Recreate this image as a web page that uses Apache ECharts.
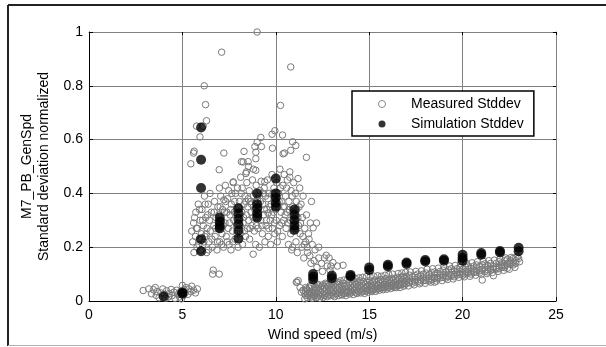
<!DOCTYPE html>
<html>
<head>
<meta charset="utf-8">
<script src="https://cdn.jsdelivr.net/npm/echarts@6/dist/echarts.min.js"></script>
<style>
html,body{margin:0;padding:0;background:#fff;}
#c{width:606px;height:347px;}
</style>
</head>
<body>
<div id="c"></div>
<script>
// ---- data ----
var xTicks = [0, 5, 10, 15, 20, 25];
var yTicks = [0, 0.2, 0.4, 0.6, 0.8, 1];
var seriesNames = ['Measured Stddev', 'Simulation Stddev'];

var measuredLow = [
[2.9,0.039],[3.2,0.045],[3.35,0.027],[3.45,0.042],[3.55,0.05],[3.6,0.021],[3.65,0.035],[3.75,0.012],[3.85,0.03],[3.95,0.045],
[4.05,0.025],[4.15,0.038],[4.25,0.015],[4.3,0.028],[4.4,0.043],[4.45,0.02],[4.55,0.033],[4.6,0.01],[4.7,0.04],[4.75,0.024],
[4.85,0.015],[4.9,0.035],[5.0,0.058],[5.05,0.02],[5.1,0.042],[5.15,0.03],[5.2,0.05],[5.3,0.025],[5.35,0.045],[5.45,0.035],
[5.5,0.055],[5.6,0.04],[5.7,0.03],[5.8,0.045],[4.1,0.01],[4.95,0.008]
];

var measuredHigh = [
[6.17,0.8],[6.24,0.73],[6.29,0.67],[5.76,0.65],[6.11,0.65],[5.94,0.61],[5.63,0.557],[5.6,0.55],[5.45,0.51],[7.1,0.925],
[9.0,1.0],[10.8,0.87],[10.25,0.727],[7.22,0.55],[6.97,0.488],[9.95,0.633],[9.8,0.62],[9.2,0.608],[9.0,0.59],[8.88,0.574],
[9.23,0.574],[10.36,0.617],[10.9,0.592],[11.07,0.578],[9.82,0.568],[10.46,0.55],[8.3,0.556],[8.93,0.553],[11.64,0.534],[8.16,0.518],
[8.52,0.518],[8.93,0.529],[8.8,0.49],[8.4,0.474],[8.54,0.5],[8.43,0.48],[8.93,0.486],[8.25,0.517],[10.39,0.547],[10.8,0.56],
[10.75,0.48],[11.19,0.455],[7.72,0.443],[9.41,0.443]
];

var measuredCloud = [
[5.5,0.26],[5.55,0.22],[5.6,0.29],[5.62,0.18],[5.7,0.24],[5.72,0.33],[5.78,0.2],[5.8,0.27],[5.85,0.36],[5.9,0.23],[5.95,0.3],[5.98,0.19],
[6.02,0.25],[6.05,0.34],[6.1,0.21],[6.12,0.28],[6.18,0.39],[6.2,0.24],[6.25,0.31],[6.3,0.18],[6.32,0.27],[6.38,0.36],[6.42,0.22],[6.45,0.3],[6.5,0.26],[6.48,0.4],
[6.55,0.33],[6.6,0.2],[6.62,0.1],[6.65,0.115],[6.68,0.28],[6.72,0.37],[6.75,0.24],[6.8,0.31],[6.85,0.19],[6.9,0.35],[6.92,0.27],[6.97,0.1],[6.98,0.42],[7.0,0.22],
[7.05,0.39],[7.08,0.3],[7.12,0.25],[7.15,0.34],[7.2,0.2],[7.22,0.376],[7.28,0.29],[7.3,0.43],[7.35,0.24],[7.38,0.33],[7.42,0.38],[7.45,0.27],[7.5,0.21],[7.48,0.41],
[7.55,0.32],[7.6,0.19],[7.62,0.36],[7.68,0.26],[7.72,0.44],[7.75,0.3],[7.8,0.37],[7.82,0.23],[7.88,0.34],[7.9,0.28],[7.95,0.42],[7.98,0.2],
[8.02,0.31],[8.05,0.37],[8.1,0.25],[8.12,0.46],[8.18,0.33],[8.2,0.42],[8.22,0.21],[8.25,0.29],[8.3,0.36],[8.35,0.39],[8.38,0.24],[8.42,0.32],[8.45,0.44],[8.48,0.27],[8.5,0.35],
[8.55,0.3],[8.58,0.41],[8.6,0.23],[8.65,0.37],[8.68,0.33],[8.72,0.28],[8.75,0.45],[8.79,0.174],[8.8,0.39],[8.85,0.26],[8.88,0.34],[8.92,0.21],[8.95,0.43],[8.98,0.31],
[9.02,0.38],[9.05,0.27],[9.1,0.35],[9.12,0.2],[9.15,0.41],[9.2,0.3],[9.22,0.445],[9.28,0.25],[9.3,0.36],[9.35,0.32],[9.38,0.42],[9.42,0.22],[9.45,0.39],[9.48,0.28],
[9.52,0.34],[9.55,0.45],[9.59,0.327],[9.6,0.24],[9.65,0.4],[9.7,0.3],[9.72,0.21],[9.75,0.36],[9.8,0.47],[9.82,0.27],[9.88,0.33],[9.9,0.42],[9.95,0.25],[9.98,0.38],
[10.02,0.3],[10.05,0.44],[10.08,0.22],[10.12,0.35],[10.15,0.4],[10.2,0.28],[10.22,0.49],[10.28,0.33],[10.3,0.37],[10.35,0.24],[10.38,0.43],[10.42,0.3],[10.45,0.47],[10.48,0.35],
[10.52,0.39],[10.55,0.27],[10.6,0.33],[10.62,0.45],[10.68,0.21],[10.7,0.37],[10.75,0.46],[10.78,0.3],[10.82,0.41],[10.85,0.19],[10.9,0.35],[10.92,0.26],[10.96,0.44],[11.0,0.31],
[11.05,0.4],[11.08,0.22],[11.12,0.34],[11.15,0.18],[11.22,0.28],[11.28,0.42],[11.3,0.25],[11.35,0.36],[11.4,0.2],[11.42,0.31],[11.46,0.39],[11.5,0.16],
[11.55,0.27],[11.6,0.22],[11.64,0.32],[11.7,0.18],[11.75,0.25],[11.82,0.168],[11.85,0.29],[11.91,0.37],[11.95,0.21],[12.0,0.272],[12.05,0.15],[12.18,0.29],
[12.2,0.125],[12.3,0.16],[12.45,0.14],[12.6,0.16],[12.75,0.13],[12.85,0.16],[12.95,0.13],[13.06,0.143],[13.3,0.13],[13.6,0.133],
[11.1,0.07],[11.2,0.076],[11.3,0.05],[11.37,0.033],[11.46,0.04],[11.55,0.027],[10.9,0.2],[11.14,0.07]
];

var measuredCloud2 = [
[5.65,0.31],[5.75,0.27],[5.88,0.21],[5.92,0.34],[6.08,0.3],[6.15,0.22],[6.22,0.36],[6.28,0.25],[6.35,0.32],[6.4,0.19],
[6.58,0.23],[6.7,0.33],[6.78,0.27],[6.88,0.22],[6.95,0.32],[7.02,0.35],[7.1,0.21],[7.18,0.28],[7.25,0.33],[7.32,0.37],
[7.4,0.22],[7.52,0.29],[7.58,0.34],[7.65,0.4],[7.7,0.22],[7.78,0.33],[7.85,0.4],[7.92,0.25],[8.0,0.35],[8.08,0.28],
[8.15,0.4],[8.28,0.31],[8.32,0.26],[8.4,0.37],[8.52,0.38],[8.62,0.27],[8.7,0.36],[8.78,0.31],[8.9,0.37],[8.96,0.28],
[9.08,0.32],[9.18,0.37],[9.25,0.28],[9.32,0.4],[9.4,0.34],[9.5,0.3],[9.58,0.38],[9.62,0.27],[9.68,0.35],[9.78,0.32],
[9.85,0.4],[9.92,0.29],[10.0,0.34],[10.1,0.26],[10.18,0.37],[10.25,0.42],[10.32,0.29],[10.4,0.35],[10.5,0.32],[10.58,0.42],
[10.65,0.29],[10.72,0.34],[10.8,0.25],[10.88,0.39],[10.95,0.33],[11.02,0.27],[11.1,0.37],[11.18,0.31],[11.25,0.35],[11.32,0.29],
[11.45,0.24],[11.52,0.21],[11.68,0.2],[11.78,0.23],[11.88,0.14],[12.1,0.19],[12.3,0.2],[12.5,0.11],[12.7,0.17],[12.9,0.115]
];

var measuredBand = [
[11.6,0.02],[11.6,0.035],[11.6,0.05],[11.7,0.012],[11.7,0.04],[11.7,0.028],[11.8,0.022],[11.8,0.048],[11.8,0.034],[11.9,0.015],[11.9,0.03],[11.9,0.055],
[12.0,0.025],[12.0,0.04],[12.0,0.018],[12.1,0.032],[12.1,0.05],[12.1,0.02],[12.2,0.014],[12.2,0.045],[12.2,0.028],[12.3,0.038],[12.3,0.022],[12.3,0.056],
[12.4,0.03],[12.4,0.018],[12.4,0.048],[12.5,0.042],[12.5,0.025],[12.5,0.06],[12.6,0.02],[12.6,0.036],[12.6,0.052],[12.7,0.028],[12.7,0.045],[12.7,0.062],
[12.8,0.034],[12.8,0.022],[12.8,0.055],[12.9,0.04],[12.9,0.026],[12.9,0.06],[13.0,0.03],[13.0,0.048],[13.0,0.065],[13.1,0.022],[13.1,0.038],[13.1,0.058],
[13.2,0.035],[13.2,0.052],[13.2,0.028],[13.3,0.043],[13.3,0.027],[13.3,0.062],[13.4,0.032],[13.4,0.05],[13.4,0.068],[13.5,0.038],[13.5,0.025],[13.5,0.058],
[13.6,0.045],[13.6,0.03],[13.6,0.066],[13.7,0.036],[13.7,0.055],[13.7,0.028],[13.8,0.042],[13.8,0.06],[13.8,0.033],[13.9,0.05],[13.9,0.035],[13.9,0.07],
[14.0,0.04],[14.0,0.058],[14.0,0.03],[14.1,0.047],[14.1,0.034],[14.1,0.065],[14.2,0.038],[14.2,0.055],[14.2,0.072],[14.3,0.044],[14.3,0.03],[14.3,0.062],
[14.4,0.052],[14.4,0.036],[14.4,0.07],[14.5,0.04],[14.5,0.058],[14.5,0.075],[14.6,0.048],[14.6,0.034],[14.6,0.066],[14.7,0.055],[14.7,0.04],[14.7,0.073],
[14.8,0.045],[14.8,0.062],[14.8,0.036],[14.9,0.05],[14.9,0.068],[14.9,0.04],[15.0,0.058],[15.0,0.042],[15.0,0.075],[15.1,0.048],[15.1,0.065],[15.1,0.038],
[15.2,0.055],[15.2,0.072],[15.2,0.044],[15.3,0.062],[15.3,0.047],[15.3,0.078],[15.4,0.052],[15.4,0.068],[15.4,0.042],[15.5,0.058],[15.5,0.075],[15.5,0.046],
[15.6,0.064],[15.6,0.05],[15.6,0.08],[15.7,0.055],[15.7,0.072],[15.7,0.048],[15.8,0.06],[15.8,0.078],[15.8,0.05],[15.9,0.068],[15.9,0.054],[15.9,0.083],
[16.0,0.058],[16.0,0.075],[16.0,0.05],[16.1,0.065],[16.1,0.08],[16.1,0.052],[16.2,0.07],[16.2,0.056],[16.2,0.085],[16.3,0.062],[16.3,0.078],[16.3,0.054],
[16.4,0.068],[16.4,0.084],[16.4,0.058],[16.45,0.05],[16.5,0.074],[16.5,0.06],[16.5,0.088],[16.6,0.066],[16.6,0.082],[16.6,0.058],[16.7,0.072],[16.7,0.088],[16.7,0.062],
[16.8,0.078],[16.8,0.064],[16.8,0.092],[16.9,0.07],[16.9,0.086],[16.9,0.06],[17.0,0.075],[17.0,0.09],[17.0,0.065],[17.15,0.082],[17.15,0.068],[17.15,0.096],
[17.3,0.074],[17.3,0.09],[17.3,0.066],[17.45,0.08],[17.45,0.095],[17.45,0.07],[17.6,0.086],[17.6,0.072],[17.6,0.1],[17.75,0.078],[17.75,0.094],[17.75,0.07],
[17.9,0.085],[17.9,0.1],[17.9,0.076],[18.05,0.09],[18.05,0.076],[18.05,0.104],[18.2,0.083],[18.2,0.098],[18.2,0.075],[18.35,0.09],[18.35,0.106],[18.35,0.08],
[18.5,0.07],[18.5,0.096],[18.5,0.085],[18.5,0.108],[18.65,0.088],[18.65,0.102],[18.65,0.082],[18.8,0.095],[18.8,0.11],[18.8,0.086],[18.95,0.1],[18.95,0.088],[18.95,0.115],
[19.1,0.093],[19.1,0.108],[19.1,0.085],[19.25,0.1],[19.25,0.116],[19.25,0.09],[19.4,0.106],[19.4,0.094],[19.4,0.12],[19.55,0.098],[19.55,0.112],[19.55,0.09],
[19.7,0.105],[19.7,0.12],[19.7,0.096],[19.85,0.11],[19.85,0.1],[19.85,0.125],[20.0,0.104],[20.0,0.118],[20.0,0.095],[20.15,0.11],[20.15,0.126],[20.15,0.1],
[20.3,0.116],[20.3,0.104],[20.3,0.13],[20.45,0.108],[20.45,0.122],[20.45,0.1],[20.6,0.115],[20.6,0.13],[20.6,0.106],[20.75,0.12],[20.75,0.108],[20.75,0.134],
[20.9,0.112],[20.9,0.128],[20.9,0.104],[21.05,0.118],[21.05,0.134],[21.05,0.078],[21.2,0.124],[21.2,0.11],[21.2,0.138],[21.35,0.116],[21.35,0.132],[21.35,0.108],
[21.5,0.122],[21.5,0.14],[21.5,0.114],[21.65,0.128],[21.65,0.118],[21.65,0.094],[21.8,0.124],[21.8,0.14],[21.8,0.118],[21.95,0.13],[21.95,0.146],[21.95,0.12],
[22.1,0.126],[22.1,0.142],[22.1,0.135],[22.25,0.132],[22.25,0.15],[22.25,0.124],[22.4,0.14],[22.4,0.122],[22.4,0.155],[22.55,0.136],[22.55,0.15],[22.55,0.145],
[22.7,0.142],[22.7,0.158],[22.7,0.134],[22.85,0.15],[22.85,0.14],[22.85,0.162],[23.0,0.158],[23.05,0.146]
];

var measuredBand2 = [
[11.55,0.008],[11.65,0.045],[11.75,0.02],[11.85,0.058],[11.95,0.01],[12.05,0.06],[12.15,0.012],[12.25,0.062],[12.35,0.01],[12.45,0.055],
[12.55,0.014],[12.65,0.066],[12.75,0.016],[12.85,0.068],[12.95,0.02],[13.05,0.072],[13.15,0.016],[13.25,0.07],[13.35,0.02],[13.45,0.075],
[13.55,0.022],[13.65,0.078],[13.75,0.02],[13.85,0.08],[13.95,0.026],[14.05,0.082],[14.15,0.024],[14.25,0.084],[14.35,0.028],[14.45,0.086],
[14.55,0.03],[14.65,0.088],[14.75,0.028],[14.85,0.09],[14.95,0.033],[15.05,0.09],[15.15,0.035],[15.25,0.092],[15.35,0.036],[15.45,0.094],
[15.55,0.04],[15.65,0.092],[15.75,0.042],[15.85,0.096],[15.95,0.044],[16.05,0.098],[16.15,0.046],[16.25,0.1],[16.35,0.05],[16.55,0.102],
[16.65,0.05],[16.75,0.104],[16.85,0.055],[16.95,0.106],
[17.1,0.056],[17.2,0.108],[17.4,0.06],[17.5,0.11],[17.7,0.064],[17.8,0.112],[18.0,0.066],[18.1,0.118],[18.3,0.07],[18.4,0.12],
[18.6,0.074],[18.7,0.122],[18.9,0.076],[19.0,0.128],[19.2,0.08],[19.3,0.13],[19.5,0.082],[19.6,0.132],[19.8,0.088],[19.9,0.138],
[20.1,0.09],[20.2,0.14],[20.4,0.092],[20.5,0.142],[20.7,0.096],[20.8,0.146],[21.0,0.1],[21.1,0.148],[21.3,0.102],[21.4,0.15],
[21.6,0.106],[21.7,0.152],[21.9,0.11],[22.0,0.156],[22.2,0.114],[22.3,0.16],[22.5,0.118],[22.6,0.162],[22.8,0.125],[22.95,0.165]
];

var simulation = [
[4,0.017],[5,0.027],[5,0.032],
[6,0.645],[6,0.525],[6,0.42],[6,0.23],[6,0.185],
[7,0.31],[7,0.295],[7,0.28],[7,0.27],
[8,0.345],[8,0.325],[8,0.305],[8,0.285],[8,0.262],[8,0.232],
[9,0.40],[9,0.36],[9,0.345],[9,0.325],[9,0.31],
[10,0.455],[10,0.40],[10,0.385],[10,0.365],[10,0.35],
[11,0.34],[11,0.32],[11,0.3],[11,0.28],[11,0.265],
[12,0.10],[12,0.09],[12,0.08],
[13,0.095],[13,0.085],
[14,0.097],[14,0.092],
[15,0.125],[15,0.115],
[16,0.135],[16,0.128],
[17,0.143],[17,0.138],
[18,0.152],[18,0.147],
[19,0.155],[19,0.15],
[20,0.172],[20,0.16],[20,0.15],
[21,0.178],[21,0.172],
[22,0.186],[22,0.18],
[23,0.198],[23,0.185]
];

var measured = measuredLow.concat(measuredHigh, measuredCloud, measuredCloud2, measuredBand, measuredBand2);

// ---- chart ----
var chart = echarts.init(document.getElementById('c'), null, {renderer: 'canvas'});
var FONT = 'Liberation Sans, Arial, sans-serif';
var GRIDC = '#808080';

var option = {
  backgroundColor: '#ffffff',
  animation: false,
  textStyle: {fontFamily: FONT},
  grid: {left: 89, right: 50, top: 32, bottom: 43, show: false},
  xAxis: [{
    type: 'value', min: xTicks[0], max: xTicks[xTicks.length-1], interval: 5, position: 'bottom',
    name: 'Wind speed (m/s)', nameLocation: 'middle', nameGap: 27,
    nameTextStyle: {fontSize: 14, color: '#000', fontFamily: FONT},
    axisLine: {show: true, onZero: false, lineStyle: {color: '#000', width: 1}},
    axisTick: {show: true, inside: true, length: 4, lineStyle: {color: '#000'}},
    axisLabel: {fontSize: 14, color: '#000', margin: 7, fontFamily: FONT},
    splitLine: {show: true, lineStyle: {color: GRIDC, width: 1}}
  }, {
    type: 'value', min: xTicks[0], max: xTicks[xTicks.length-1], interval: 5, position: 'top',
    axisLine: {show: true, onZero: false, lineStyle: {color: GRIDC, width: 1}},
    axisTick: {show: true, inside: true, length: 3, lineStyle: {color: '#000'}},
    axisLabel: {show: false}, splitLine: {show: false}
  }],
  yAxis: [{
    type: 'value', min: yTicks[0], max: yTicks[yTicks.length-1], interval: 0.2, position: 'left',
    name: 'M7_PB_GenSpd\nStandard deviation normalized', nameLocation: 'middle', nameGap: 30,
    nameTextStyle: {fontSize: 14, color: '#000', lineHeight: 17, fontFamily: FONT},
    axisLine: {show: true, onZero: false, lineStyle: {color: '#000', width: 1}},
    axisTick: {show: true, inside: true, length: 4, lineStyle: {color: '#000'}},
    axisLabel: {fontSize: 14, color: '#000', margin: 6, fontFamily: FONT},
    splitLine: {show: true, lineStyle: {color: GRIDC, width: 1}}
  }, {
    type: 'value', min: yTicks[0], max: yTicks[yTicks.length-1], interval: 0.2, position: 'right',
    axisLine: {show: true, onZero: false, lineStyle: {color: GRIDC, width: 1}},
    axisTick: {show: true, inside: true, length: 3, lineStyle: {color: '#000'}},
    axisLabel: {show: false}, splitLine: {show: false}
  }],
  legend: {
    show: true, orient: 'vertical', left: 352, top: 91,
    padding: [6, 10, 5, 26], itemGap: 6, itemWidth: 48, itemHeight: 7,
    backgroundColor: '#fff', borderColor: '#000', borderWidth: 1.5, borderRadius: 0,
    textStyle: {fontSize: 14, color: '#000', fontFamily: FONT},
    data: [
      {name: seriesNames[0], icon: 'circle', itemStyle: {color: '#fff', borderColor: '#8a8a8a', borderWidth: 1}},
      {name: seriesNames[1], icon: 'circle', itemStyle: {color: '#000', borderWidth: 0}}
    ]
  },
  graphic: [
    {type: 'line', silent: true, z: 100, shape: {x1: 8, y1: 5, x2: 606, y2: 5}, style: {stroke: '#222', lineWidth: 2}},
    {type: 'line', silent: true, z: 100, shape: {x1: 8, y1: 5, x2: 8, y2: 346}, style: {stroke: '#222', lineWidth: 2}},
    {type: 'line', silent: true, z: 100, shape: {x1: 8, y1: 345.5, x2: 606, y2: 345.5}, style: {stroke: '#b0b0b0', lineWidth: 1}}
  ],
  series: [{
    name: seriesNames[0], type: 'scatter', xAxisIndex: 0, yAxisIndex: 0,
    symbol: 'circle', symbolSize: 6.5,
    itemStyle: {color: 'rgba(255,255,255,0)', borderColor: '#7a7a7a', borderWidth: 1, opacity: 1},
    emphasis: {disabled: true},
    data: measured, z: 2
  }, {
    name: seriesNames[1], type: 'scatter', xAxisIndex: 0, yAxisIndex: 0,
    symbol: 'circle', symbolSize: 10,
    itemStyle: {color: '#000', borderWidth: 0},
    emphasis: {disabled: true},
    data: simulation, z: 3
  }]
};
chart.setOption(option);
</script>
</body>
</html>
